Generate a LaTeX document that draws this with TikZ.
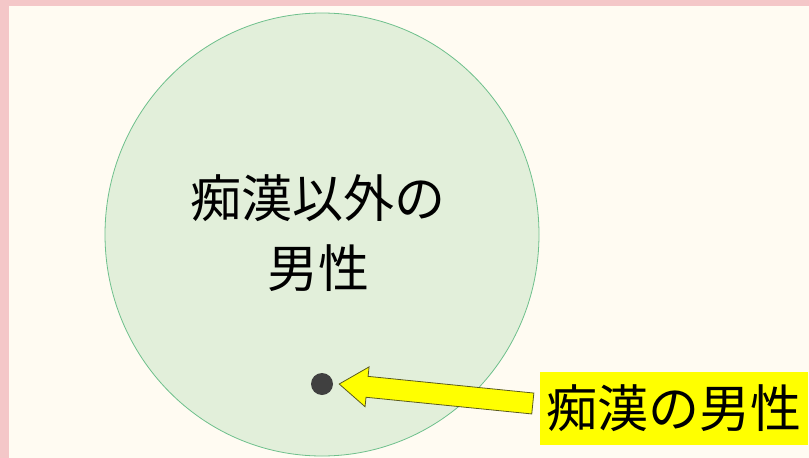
\documentclass[tikz,border=0pt]{standalone}
\usepackage{fontspec}
\usepackage{xcolor}
\usepackage{tikz}
\usetikzlibrary{positioning,calc,shapes.geometric}
\newfontfamily\jpfont{Noto Sans CJK JP}
\definecolor{framepink}{RGB}{244, 199, 200}
\definecolor{papercream}{RGB}{255, 251, 242}
\definecolor{groupfill}{RGB}{226, 239, 218}
\definecolor{groupline}{RGB}{110, 192, 140}
\definecolor{dotgray}{RGB}{64, 64, 64}
\definecolor{markyellow}{RGB}{255, 255, 0}
\definecolor{arrowline}{RGB}{90, 90, 30}
\tikzset{
    big text/.style={font=\jpfont\fontsize{51}{70}\selectfont, text=black, inner sep=0pt},
    group set/.style={ellipse, draw=groupline, fill=groupfill, line width=0.8pt, minimum width=434, minimum height=443, inner sep=0pt},
    member dot/.style={circle, fill=dotgray, minimum size=22, inner sep=0pt},
    tag box/.style={rectangle, fill=markyellow, minimum width=268, minimum height=73, inner sep=0pt},
    callout arrow/.style={fill=markyellow, draw=arrowline, line width=0.8pt, line join=miter}
}

\begin{document}
\begin{tikzpicture}[x=1pt, y=-1pt]
\useasboundingbox (0,0) rectangle (809,458);
% Background and frame
\fill[framepink] (0,0) rectangle (809,458);
\fill[papercream] (9,6) rectangle (809,458);

% Main nodes
\node[group set] (others) at (322,234.5) {};
\node[big text, align=center] (otherslabel) at (318,233) {痴漢以外の\\男性};
\node[member dot] (dot) at (322,384) {};
\node[tag box] (tag) at (674,408.5) {};
\node[big text] (taglabel) at (tag.center) {痴漢の男性};

% Callout arrow
\coordinate (tip) at ($(dot.east)+(6,0)$);
\coordinate (tail) at ($(tag.west)+(-7,-5)$);
\coordinate (neck) at ($(tip)!28pt!(tail)$);
\draw[callout arrow] (tip)
  -- ($(neck)!20pt!90:(tail)$) -- ($(neck)!10.5pt!90:(tail)$)
  -- ($(tail)!10.5pt!-90:(neck)$) -- ($(tail)!10.5pt!90:(neck)$)
  -- ($(neck)!10.5pt!-90:(tail)$) -- ($(neck)!20pt!-90:(tail)$) -- cycle;
\end{tikzpicture}
\end{document}
